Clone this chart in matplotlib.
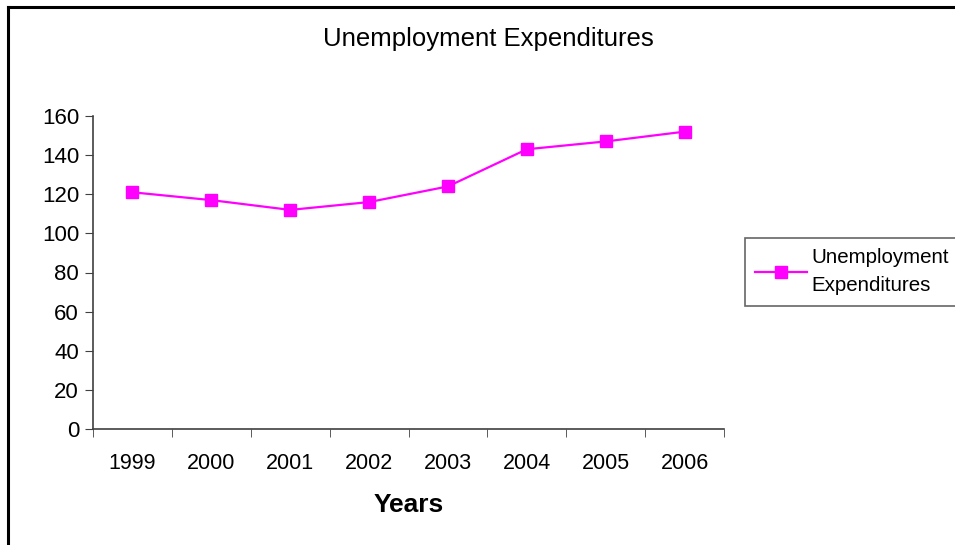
import matplotlib
matplotlib.use("Agg")
import matplotlib.pyplot as plt
from matplotlib.lines import Line2D
import numpy as np

years = ["1999", "2000", "2001", "2002", "2003", "2004", "2005", "2006"]
expenditures = [121, 117, 112, 116, 124, 143, 147, 152]
y_ticks = [0, 20, 40, 60, 80, 100, 120, 140, 160]

plt.rcParams['font.family'] = ['Liberation Sans', 'DejaVu Sans']

W, H = 955, 545
fig = plt.figure(figsize=(W / 100, H / 100), dpi=100)
ax = fig.add_axes([93 / W, 1 - 429 / H, (724 - 93) / W, (429 - 116) / H])

x = np.arange(len(years))
ax.plot(x, expenditures, color="#FF00FF", lw=1.6, marker="s", ms=9,
        markeredgecolor="#FF00FF", label="Unemployment\nExpenditures")

ax.set_xlim(-0.5, len(years) - 0.5)
ax.set_ylim(0, 160)
ax.set_yticks(y_ticks)
ax.set_xticks(x)
ax.set_xticklabels(years)
ax.set_xticks(np.arange(-0.5, len(years)), minor=True)
ax.tick_params(axis="x", which="major", length=0, pad=17, labelsize=15.5)
ax.tick_params(axis="x", which="minor", length=6, direction="out", color="#404040")
ax.tick_params(axis="y", length=6, direction="out", color="#404040", labelsize=16, pad=4)

for side in ["top", "right"]:
    ax.spines[side].set_visible(False)
for side in ["left", "bottom"]:
    ax.spines[side].set_color("#404040")
    ax.spines[side].set_linewidth(1.2)

ax.set_xlabel("Years", fontsize=19, fontweight="bold", labelpad=14)
fig.text(488 / W, 1 - 39 / H, "Unemployment Expenditures", fontsize=18.5,
         ha="center", va="center")

leg = ax.legend(loc="upper left", bbox_to_anchor=(745 / W, 1 - 238 / H),
                bbox_transform=fig.transFigure, fontsize=14.8, frameon=True,
                fancybox=False, edgecolor="#404040", borderpad=0.5,
                handlelength=2.5, handletextpad=0.25, borderaxespad=0)
leg.get_frame().set_linewidth(1.2)
leg.get_texts()[0].set_linespacing(1.6)

# outer chart border (cropped on right and bottom)
fig.add_artist(Line2D([8 / W, 1], [1 - 7 / H, 1 - 7 / H], color="black", lw=2.2,
                      transform=fig.transFigure))
fig.add_artist(Line2D([8 / W, 8 / W], [0, 1 - 7 / H], color="black", lw=2.2,
                      transform=fig.transFigure))

fig.savefig("out.png", dpi=100)
